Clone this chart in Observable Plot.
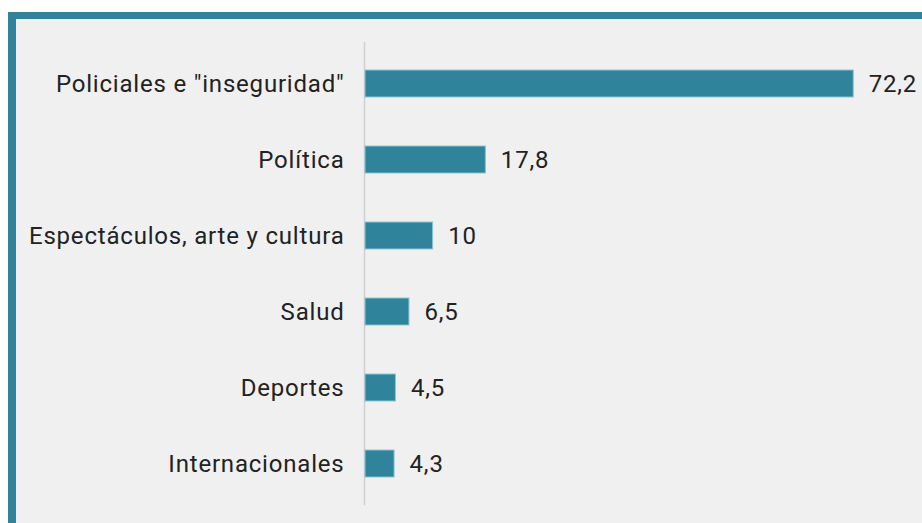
<!DOCTYPE html>
<html>
<head>
<meta charset="utf-8">
<script src="https://cdn.jsdelivr.net/npm/d3@7"></script>
<script src="https://cdn.jsdelivr.net/npm/@observablehq/plot@0.6"></script>
<style>
  html, body { margin: 0; padding: 0; background: #ffffff; }
  #wrap { position: relative; width: 922px; height: 523px; overflow: hidden; }
  #panel { position: absolute; left: 8px; top: 12px; width: 930px; height: 530px;
           box-sizing: border-box; background: #f0f0f0;
           border-top: 7px solid #2f839a; border-left: 8px solid #2f839a; }
  #chart { position: absolute; left: 0; top: 0; }
  #chart svg text { letter-spacing: 0.8px; }
</style>
</head>
<body>
<div id="wrap"><div id="panel"></div><div id="chart"></div></div>
<script>
const categories = ["Policiales e \"inseguridad\"", "Política", "Espectáculos, arte y cultura", "Salud", "Deportes", "Internacionales"];
const values = [72.2, 17.8, 10, 6.5, 4.5, 4.3];

const data = categories.map((c, i) => ({category: c, value: values[i]}));
const fmt = v => String(v).replace(".", ",");

const chart = Plot.plot({
  width: 922,
  height: 523,
  marginTop: 42,
  marginBottom: 18,
  marginLeft: 365,
  marginRight: 16,
  style: {background: "transparent", fontFamily: "Roboto", fontSize: "24px", color: "#222"},
  x: {domain: [0, 80], axis: null},
  y: {domain: categories, paddingInner: 0.647, paddingOuter: 0.345, label: null},
  marks: [
    Plot.ruleX([0], {stroke: "#cfcfcf", strokeWidth: 1.5, dx: -1}),
    Plot.barX(data, {x: "value", y: "category", fill: "#2f839a", stroke: "#8dc3d2", strokeWidth: 1}),
    Plot.text(data, {x: "value", y: "category", text: d => fmt(d.value), textAnchor: "start", dx: 15, fontSize: 24, fill: "#222"}),
    Plot.axisY({tickSize: 0, tickPadding: 21, fontSize: 24, fill: "#222", label: null})
  ]
});
document.getElementById("chart").appendChild(chart);
</script>
</body>
</html>
